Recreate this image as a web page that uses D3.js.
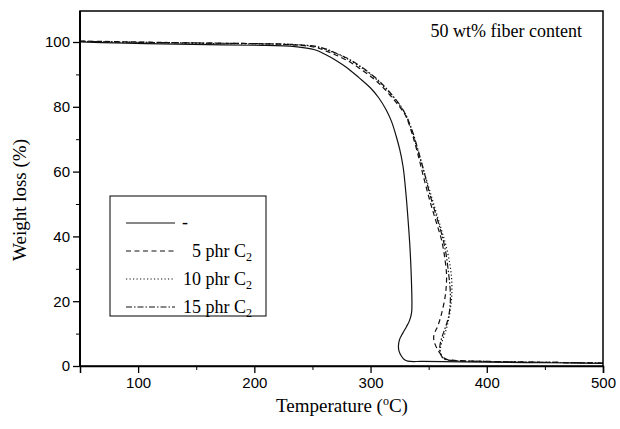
<!DOCTYPE html>
<html><head><meta charset="utf-8">
<script src="https://cdn.jsdelivr.net/npm/d3@7"></script>
<style>body{margin:0;background:#fff}svg{display:block}</style>
</head><body>
<svg id="c" width="620" height="429"></svg>
<script>
const xTicks = [100, 200, 300, 400, 500];
const xMinor = [150, 250, 350, 450];
const yTicks = [0, 20, 40, 60, 80, 100];
const yMinor = [10, 30, 50, 70, 90];
const seriesNames = ["-", "5 phr C", "10 phr C", "15 phr C"];

const t0 = [50, 80, 120, 160, 200, 235, 252, 262, 270, 280, 290, 300, 307, 313.5, 318, 322, 325, 328, 330.5, 332.5, 334, 335.2, 335.6, 335.3, 333.5, 331, 327.5, 325, 324, 324.5, 326.5, 329, 332, 345, 400, 450, 500];
const w0 = [100, 99.7, 99.4, 99.2, 99, 98.6, 97.6, 96, 94.4, 92, 89, 85.8, 82.8, 79, 75.5, 71, 67, 61.5, 53, 44, 36, 26, 19, 16.5, 14, 12.2, 10, 8.2, 6.3, 4.6, 3.1, 2.0, 1.5, 1.4, 1.2, 1.0, 0.8];

const t5 = [50, 100, 150, 200, 230, 252, 262, 270, 280, 290, 303.5, 312, 320, 326, 330.5, 335.5, 340.5, 345.5, 350.8, 356, 361, 364, 365.4, 365, 364, 361, 358, 355.5, 354.3, 354.8, 357, 360, 364.5, 370, 380, 420, 460, 500];
const w5 = [100.3, 100, 99.7, 99.5, 99.2, 98.4, 97.2, 96, 94.3, 92, 88.4, 85.5, 82.2, 79.5, 77, 72, 65.7, 58.5, 51.3, 45, 39, 33, 28, 24, 21, 16, 12.5, 10.5, 9, 7.5, 5.5, 3.8, 2.2, 1.8, 1.6, 1.3, 1.1, 0.9];

const t10 = [50, 100, 150, 200, 230, 252, 262, 270, 280, 290, 303.5, 312, 320, 326, 331, 336, 341, 346, 351, 356, 361, 365, 368, 369.5, 370, 369.5, 368, 366, 363.5, 361, 360, 360.5, 362.5, 366, 372, 380, 420, 460, 500];
const w10 = [100.2, 99.9, 99.6, 99.4, 99.2, 98.6, 97.6, 96.5, 94.8, 92.6, 89, 86, 82.8, 80, 77, 72, 66, 60, 54, 48, 42, 37, 32, 28, 24, 20, 16, 12.5, 9.5, 7, 5, 3.5, 2.3, 1.8, 1.6, 1.5, 1.3, 1.1, 0.9];

const t15 = [50, 100, 150, 200, 230, 252, 262, 270, 280, 290, 303.5, 312, 320, 326, 331, 336, 341, 346, 351, 356, 361, 364.5, 367, 368.6, 368.5, 367, 364.5, 362, 360, 359.5, 360.5, 363, 367, 375, 420, 460, 500];
const w15 = [100.2, 99.9, 99.7, 99.5, 99.3, 98.7, 97.8, 96.6, 95, 92.8, 89.2, 86.3, 83, 80.2, 77, 72.5, 66.5, 60, 53, 47, 41, 35.5, 29, 23, 19, 15, 12, 9.5, 7, 5, 3.5, 2.3, 1.8, 1.6, 1.3, 1.1, 0.9];

const series = [
  {name: seriesNames[0], t: t0, w: w0, dash: null, sub: false},
  {name: seriesNames[1], t: t5, w: w5, dash: "5,3.5", sub: true},
  {name: seriesNames[2], t: t10, w: w10, dash: "1.2,2.3", sub: true},
  {name: seriesNames[3], t: t15, w: w15, dash: "6,2,1.5,2", sub: true}
];

const svg = d3.select("#c");
const L = 80, R = 603, B = 366, TOP = 11;
const x = d3.scaleLinear().domain([50, 500]).range([L, R]);
const y = d3.scaleLinear().domain([0, 100]).range([B, 42]);
const serif = "'Liberation Serif','Times New Roman',serif";
const sans = "'Liberation Sans',Arial,sans-serif";

// curves
svg.append("clipPath").attr("id", "pc").append("rect")
  .attr("x", L).attr("y", TOP).attr("width", R - L).attr("height", B - TOP);
const line = d3.line().x(d => x(d[0])).y(d => y(d[1])).curve(d3.curveCatmullRom.alpha(0.5));
series.forEach(s => {
  const pts = s.t.map((t, i) => [t, s.w[i]]);
  svg.append("path").attr("d", line(pts)).attr("fill", "none")
    .attr("stroke", "#111").attr("stroke-width", 1.2)
    .attr("stroke-dasharray", s.dash).attr("clip-path", "url(#pc)");
});

// frame
svg.append("rect").attr("x", L).attr("y", TOP).attr("width", R - L).attr("height", B - TOP)
  .attr("fill", "none").attr("stroke", "#000").attr("stroke-width", 1.5);

// x axis
const xa = svg.append("g").attr("transform", `translate(0,${B})`)
  .call(d3.axisBottom(x).tickValues(xTicks).tickSize(7).tickPadding(4).tickFormat(d3.format("d")));
xa.select(".domain").attr("stroke-width", 1.5);
xa.selectAll("text").attr("font-family", sans).attr("font-size", 15).attr("fill", "#000");
xa.selectAll(".tick line").attr("stroke-width", 1.3);
svg.append("g").attr("transform", `translate(0,${B})`)
  .call(d3.axisBottom(x).tickValues(xMinor).tickSize(4).tickFormat(""))
  .call(g => g.select(".domain").remove());

// y axis
const ya = svg.append("g").attr("transform", `translate(${L},0)`)
  .call(d3.axisLeft(y).tickValues(yTicks).tickSize(7).tickPadding(3).tickFormat(d3.format("d")));
ya.select(".domain").remove();
ya.selectAll("text").attr("font-family", sans).attr("font-size", 15).attr("fill", "#000");
ya.selectAll(".tick line").attr("stroke-width", 1.3);
svg.append("g").attr("transform", `translate(${L},0)`)
  .call(d3.axisLeft(y).tickValues(yMinor).tickSize(4).tickFormat(""))
  .call(g => g.select(".domain").remove());
svg.append("line").attr("x1", L).attr("x2", L).attr("y1", TOP).attr("y2", B)
  .attr("stroke", "#000").attr("stroke-width", 2);

// axis titles
const xt = svg.append("text").attr("x", 342).attr("y", 412).attr("text-anchor", "middle")
  .attr("font-family", serif).attr("font-size", 19).attr("fill", "#000");
xt.append("tspan").text("Temperature (");
xt.append("tspan").attr("font-size", 12).attr("dy", -7).text("o");
xt.append("tspan").attr("dy", 7).text("C)");
svg.append("text").attr("transform", "translate(26,200) rotate(-90)").attr("text-anchor", "middle")
  .attr("font-family", serif).attr("font-size", 19).attr("fill", "#000").text("Weight loss (%)");

// annotation
svg.append("text").attr("x", 582).attr("y", 37).attr("text-anchor", "end")
  .attr("font-family", serif).attr("font-size", 18).attr("fill", "#000").text("50 wt% fiber content");

// legend
const lg = svg.append("g");
lg.append("rect").attr("x", 110).attr("y", 196).attr("width", 156).attr("height", 120)
  .attr("fill", "#fff").attr("stroke", "#000").attr("stroke-width", 1);
const rowY = [223, 251, 279, 307];
series.forEach((s, i) => {
  lg.append("line").attr("x1", 126).attr("x2", 175).attr("y1", rowY[i]).attr("y2", rowY[i])
    .attr("stroke", "#111").attr("stroke-width", 1.2).attr("stroke-dasharray", s.dash);
  if (!s.sub) {
    lg.append("text").attr("x", 182).attr("y", rowY[i] + 5).attr("font-family", serif)
      .attr("font-size", 18).attr("fill", "#000").text(s.name);
  } else {
    const tx = lg.append("text").attr("x", 252).attr("y", rowY[i] + 6).attr("text-anchor", "end")
      .attr("font-family", serif).attr("font-size", 18).attr("fill", "#000");
    tx.append("tspan").text(s.name);
    tx.append("tspan").attr("font-size", 12).attr("dy", 4).text("2");
  }
});
</script>
</body></html>
